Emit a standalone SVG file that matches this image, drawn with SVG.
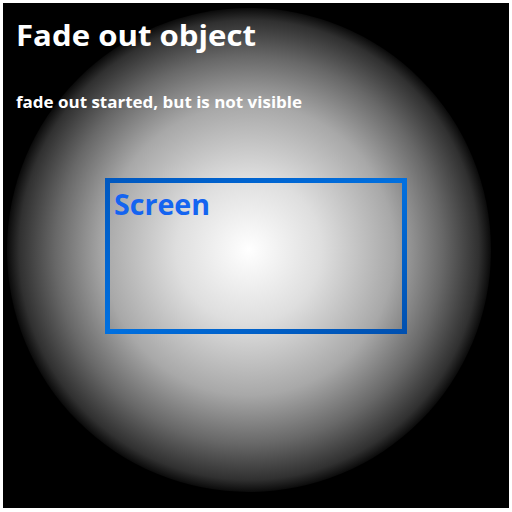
<svg xmlns="http://www.w3.org/2000/svg" width="512" height="512" viewBox="0 0 512 512">
<defs>
<radialGradient id="sphere" cx="249" cy="250" r="242" gradientUnits="userSpaceOnUse">
<stop offset="0" stop-color="#ffffff"/>
<stop offset="0.3" stop-color="#dedede"/>
<stop offset="0.6" stop-color="#a8a8a8"/>
<stop offset="0.8" stop-color="#686868"/>
<stop offset="0.95" stop-color="#303030"/>
<stop offset="1" stop-color="#0a0a0a"/>
</radialGradient>
<linearGradient id="blue" x1="0" y1="0" x2="1" y2="1">
<stop offset="0" stop-color="#0058c0"/>
<stop offset="0.5" stop-color="#0070e0"/>
<stop offset="1" stop-color="#0050b0"/>
</linearGradient>
<style>
.t{font-family:"Open Sans","Noto Sans","Liberation Sans",sans-serif;font-weight:bold}
</style>
</defs>
<rect x="0" y="0" width="512" height="512" fill="#ffffff"/>
<rect x="3" y="3" width="506" height="505" fill="#000000"/>
<circle id="sphere-obj" cx="249" cy="250" r="242" fill="url(#sphere)"/>
<g id="title">
<text class="t" x="16" y="46" font-size="29" fill="#ffffff" textLength="240" lengthAdjust="spacingAndGlyphs">Fade out object</text>
<text class="t" x="16" y="108" font-size="16" fill="#ffffff" textLength="286" lengthAdjust="spacingAndGlyphs">fade out started, but is not visible</text>
</g>
<g id="screen">
<rect x="107.5" y="180.5" width="297" height="151" fill="none" stroke="url(#blue)" stroke-width="5"/>
<text class="t" x="114" y="215" font-size="29" fill="#1464f0" textLength="96" lengthAdjust="spacingAndGlyphs">Screen</text>
</g>
<g id="connectors"/>
</svg>
